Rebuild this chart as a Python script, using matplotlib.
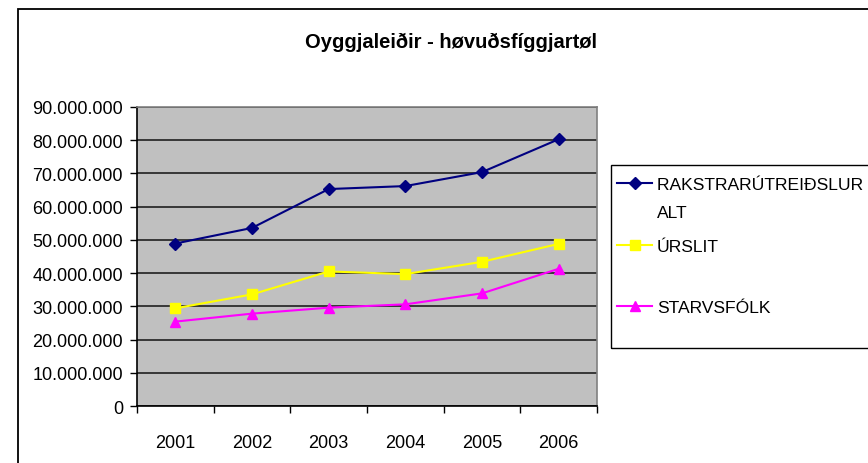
import matplotlib.pyplot as plt
from matplotlib.lines import Line2D
from matplotlib.patches import Rectangle
from matplotlib.ticker import FuncFormatter, MultipleLocator, FixedLocator

plt.rcParams['font.family'] = ['Liberation Sans', 'DejaVu Sans']

years = ['2001', '2002', '2003', '2004', '2005', '2006']
rakstur = [48.9e6, 53.6e6, 65.3e6, 66.2e6, 70.4e6, 80.3e6]
urslit = [29.4e6, 33.6e6, 40.5e6, 39.7e6, 43.4e6, 48.8e6]
starvsfolk = [25.4e6, 27.8e6, 29.6e6, 30.6e6, 33.9e6, 41.3e6]

series = [
    ('RAKSTRARÚTREIÐSLUR Í\nALT', rakstur, '#000080', 'D'),
    ('ÚRSLIT', urslit, '#FFFF00', 's'),
    ('STARVSFÓLK', starvsfolk, '#FF00FF', '^'),
]

W, H = 868, 464
fig = plt.figure(figsize=(W / 100, H / 100), dpi=100)

# outer chart frame (cut off at right and bottom)
fig.add_artist(Rectangle((18 / W, -0.1), 2, 1 - 10 / H + 0.1, transform=fig.transFigure,
                         fill=False, edgecolor='black', lw=1.3))

ax = fig.add_axes([137 / W, 1 - 407 / H, 460 / W, 299 / H])
ax.set_facecolor('#C0C0C0')
for s in ax.spines.values():
    s.set_color('#808080')
    s.set_linewidth(1.2)
ax.spines['left'].set_color('black')
ax.spines['bottom'].set_color('black')

x = range(len(years))
for label, vals, color, marker in series:
    ax.plot(x, vals, color=color, marker=marker, markersize=7 if marker != 'D' else 6,
            lw=1.5, label=label, zorder=3)

ax.set_xlim(-0.5, len(years) - 0.5)
ax.set_ylim(0, 90e6)
ax.yaxis.set_major_locator(MultipleLocator(10e6))
ax.yaxis.set_major_formatter(FuncFormatter(lambda v, p: f'{int(v):,}'.replace(',', '.')))
ax.grid(axis='y', color='#202020', lw=1.2)
ax.set_axisbelow(True)

ax.set_xticks(list(x))
ax.set_xticklabels(years)
ax.xaxis.set_minor_locator(FixedLocator([i - 0.5 for i in range(len(years) + 1)]))
ax.tick_params(axis='x', which='major', length=0, pad=20, labelsize=13)
ax.tick_params(axis='x', which='minor', length=5, width=1, color='black')
ax.tick_params(axis='y', length=5, width=1, pad=5, labelsize=13)

fig.text(451 / W, 1 - 42 / H, 'Oyggjaleiðir - høvuðsfíggjartøl', ha='center', va='center',
         fontsize=14.5, fontweight='bold')

# legend
fig.add_artist(Rectangle((611 / W, 1 - 349 / H), 1, (349 - 166) / H, transform=fig.transFigure,
                         fill=False, edgecolor='black', lw=1.0))
leg_y = [184, 246, 307]
for (label, vals, color, marker), yy in zip(series, leg_y):
    fy = 1 - yy / H
    fig.add_artist(Line2D([617 / W, 652 / W], [fy, fy], transform=fig.transFigure,
                          color=color, lw=1.5))
    fig.add_artist(Line2D([634.5 / W], [fy], transform=fig.transFigure, color=color,
                          marker=marker, markersize=7 if marker != 'D' else 6, lw=0))
    fig.text(657 / W, fy + 6 / H, label, ha='left', va='top', fontsize=12.6, linespacing=2.05)

fig.savefig('out.png', dpi=100)
